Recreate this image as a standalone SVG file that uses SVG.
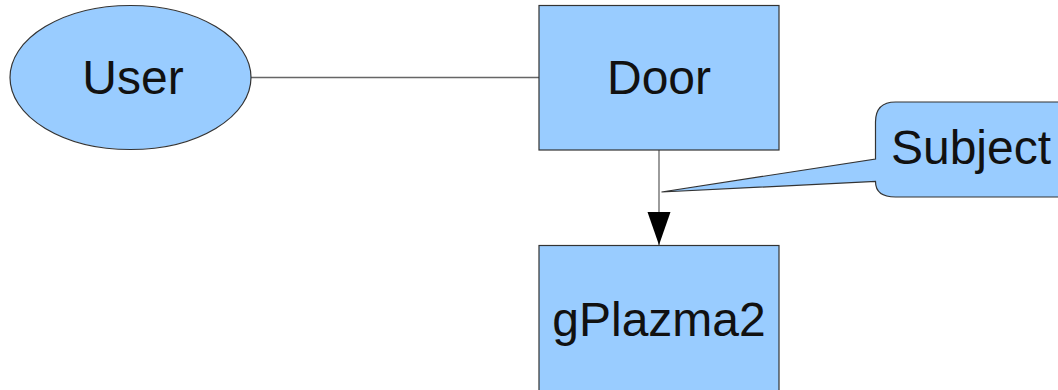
<svg xmlns="http://www.w3.org/2000/svg" width="1058" height="390" viewBox="0 0 1058 390">
<style>
.shape{fill:#99ccff;stroke:#333333;stroke-width:1.2}
.lbl{font-family:"Liberation Sans",Arial,sans-serif;font-size:48px;fill:#111111;text-anchor:middle}
.conn{stroke:#666666;stroke-width:1.3;fill:none}
.head{fill:#000000}
</style>
<g id="connectors">
<line class="conn" x1="251" y1="77.5" x2="539" y2="77.5"/>
<line class="conn" x1="659" y1="150" x2="659" y2="245"/>
<path class="head" d="M647.5,212 L670.5,212 L659,245 Z"/>
</g>
<g id="user">
<ellipse class="shape" cx="130.5" cy="77.5" rx="120.5" ry="72"/>
<text class="lbl" x="133" y="94">User</text>
</g>
<g id="door">
<rect class="shape" x="539" y="5.5" width="240" height="144.5"/>
<text class="lbl" x="659" y="94">Door</text>
</g>
<g id="gplazma2">
<rect class="shape" x="539" y="245.5" width="240" height="150"/>
<text class="lbl" x="659" y="336">gPlazma2</text>
</g>
<g id="subject">
<path class="shape" d="M661.5,192 L875.5,159 L875.5,122 Q875.5,102 895.5,102 L1080,102 L1080,197 L895.5,197 Q875.5,197 875.5,181.5 Z"/>
<text class="lbl" x="971" y="164">Subject</text>
</g>
</svg>
